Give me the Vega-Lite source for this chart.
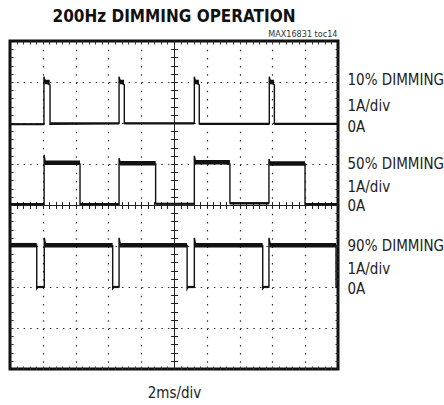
{
  "$schema": "https://vega.github.io/schema/vega-lite/v6.json",
  "width": 328,
  "height": 328,
  "autosize": "none",
  "padding": {"left": 10, "top": 41, "right": 106, "bottom": 36},
  "background": "white",
  "title": {
    "text": "200Hz DIMMING OPERATION",
    "font": "DejaVu Sans Condensed, sans-serif",
    "fontSize": 17,
    "fontWeight": "bold",
    "color": "#111",
    "anchor": "middle",
    "offset": 4
  },
  "config": {
    "view": {"stroke": "#111", "strokeWidth": 3},
    "axis": {
      "labelFont": "DejaVu Sans Condensed, sans-serif",
      "titleFont": "DejaVu Sans Condensed, sans-serif"
    }
  },
  "datasets": {
    "trace": [
      {"s": "10%", "i": 0, "t": 0, "v": 5.97},
      {"s": "10%", "i": 1, "t": 2.07, "v": 5.97},
      {"s": "10%", "i": 2, "t": 2.07, "v": 7.13},
      {"s": "10%", "i": 3, "t": 2.15, "v": 7.0},
      {"s": "10%", "i": 4, "t": 2.44, "v": 6.93},
      {"s": "10%", "i": 5, "t": 2.44, "v": 5.97},
      {"s": "10%", "i": 6, "t": 6.65, "v": 5.99},
      {"s": "10%", "i": 7, "t": 6.65, "v": 7.13},
      {"s": "10%", "i": 8, "t": 6.73, "v": 7.0},
      {"s": "10%", "i": 9, "t": 6.97, "v": 6.93},
      {"s": "10%", "i": 10, "t": 6.97, "v": 5.99},
      {"s": "10%", "i": 11, "t": 11.24, "v": 5.99},
      {"s": "10%", "i": 12, "t": 11.24, "v": 7.13},
      {"s": "10%", "i": 13, "t": 11.32, "v": 7.0},
      {"s": "10%", "i": 14, "t": 11.54, "v": 6.93},
      {"s": "10%", "i": 15, "t": 11.54, "v": 5.98},
      {"s": "10%", "i": 16, "t": 15.81, "v": 5.98},
      {"s": "10%", "i": 17, "t": 15.81, "v": 7.13},
      {"s": "10%", "i": 18, "t": 15.89, "v": 7.0},
      {"s": "10%", "i": 19, "t": 16.12, "v": 6.93},
      {"s": "10%", "i": 20, "t": 16.12, "v": 5.98},
      {"s": "10%", "i": 21, "t": 20, "v": 5.98},
      {"s": "50%", "i": 0, "t": 0, "v": 4.02},
      {"s": "50%", "i": 1, "t": 2.08, "v": 4.02},
      {"s": "50%", "i": 2, "t": 2.08, "v": 5.22},
      {"s": "50%", "i": 3, "t": 2.15, "v": 5.04},
      {"s": "50%", "i": 4, "t": 4.27, "v": 5.0},
      {"s": "50%", "i": 5, "t": 4.27, "v": 4.02},
      {"s": "50%", "i": 6, "t": 6.65, "v": 4.02},
      {"s": "50%", "i": 7, "t": 6.65, "v": 5.14},
      {"s": "50%", "i": 8, "t": 6.72, "v": 5.03},
      {"s": "50%", "i": 9, "t": 8.88, "v": 5.0},
      {"s": "50%", "i": 10, "t": 8.88, "v": 4.03},
      {"s": "50%", "i": 11, "t": 11.24, "v": 4.03},
      {"s": "50%", "i": 12, "t": 11.24, "v": 5.2},
      {"s": "50%", "i": 13, "t": 11.3, "v": 5.08},
      {"s": "50%", "i": 14, "t": 13.41, "v": 5.0},
      {"s": "50%", "i": 15, "t": 13.41, "v": 4.05},
      {"s": "50%", "i": 16, "t": 15.79, "v": 4.05},
      {"s": "50%", "i": 17, "t": 15.79, "v": 5.12},
      {"s": "50%", "i": 18, "t": 15.86, "v": 5.03},
      {"s": "50%", "i": 19, "t": 17.99, "v": 5.0},
      {"s": "50%", "i": 20, "t": 17.99, "v": 4.02},
      {"s": "50%", "i": 21, "t": 20, "v": 4.02},
      {"s": "90%", "i": 0, "t": 0, "v": 3.02},
      {"s": "90%", "i": 1, "t": 1.63, "v": 3.02},
      {"s": "90%", "i": 2, "t": 1.63, "v": 1.96},
      {"s": "90%", "i": 3, "t": 1.7, "v": 2.0},
      {"s": "90%", "i": 4, "t": 2.09, "v": 2.0},
      {"s": "90%", "i": 5, "t": 2.09, "v": 3.2},
      {"s": "90%", "i": 6, "t": 2.17, "v": 3.04},
      {"s": "90%", "i": 7, "t": 6.26, "v": 3.01},
      {"s": "90%", "i": 8, "t": 6.26, "v": 1.96},
      {"s": "90%", "i": 9, "t": 6.33, "v": 2.0},
      {"s": "90%", "i": 10, "t": 6.65, "v": 2.0},
      {"s": "90%", "i": 11, "t": 6.65, "v": 3.2},
      {"s": "90%", "i": 12, "t": 6.73, "v": 3.04},
      {"s": "90%", "i": 13, "t": 10.8, "v": 3.01},
      {"s": "90%", "i": 14, "t": 10.8, "v": 1.95},
      {"s": "90%", "i": 15, "t": 10.87, "v": 2.0},
      {"s": "90%", "i": 16, "t": 11.24, "v": 2.0},
      {"s": "90%", "i": 17, "t": 11.24, "v": 3.2},
      {"s": "90%", "i": 18, "t": 11.32, "v": 3.04},
      {"s": "90%", "i": 19, "t": 15.41, "v": 3.01},
      {"s": "90%", "i": 20, "t": 15.41, "v": 1.96},
      {"s": "90%", "i": 21, "t": 15.48, "v": 2.0},
      {"s": "90%", "i": 22, "t": 15.79, "v": 2.0},
      {"s": "90%", "i": 23, "t": 15.79, "v": 3.2},
      {"s": "90%", "i": 24, "t": 15.87, "v": 3.04},
      {"s": "90%", "i": 25, "t": 19.88, "v": 3.01},
      {"s": "90%", "i": 26, "t": 19.88, "v": 2.0},
      {"s": "90%", "i": 27, "t": 20, "v": 2.0}
    ],
    "seg": [
      {"s": "10%", "state": "low", "t0": 0, "t1": 2.07, "v": 5.97},
      {"s": "10%", "state": "low", "t0": 2.44, "t1": 6.65, "v": 5.99},
      {"s": "10%", "state": "low", "t0": 6.97, "t1": 11.24, "v": 5.99},
      {"s": "10%", "state": "low", "t0": 11.54, "t1": 15.81, "v": 5.98},
      {"s": "10%", "state": "low", "t0": 16.12, "t1": 20, "v": 5.98},
      {"s": "10%", "state": "high", "t0": 2.1, "t1": 2.42, "v": 7.0},
      {"s": "10%", "state": "high", "t0": 6.68, "t1": 6.95, "v": 7.0},
      {"s": "10%", "state": "high", "t0": 11.27, "t1": 11.52, "v": 7.0},
      {"s": "10%", "state": "high", "t0": 15.84, "t1": 16.1, "v": 7.0},
      {"s": "50%", "state": "high", "t0": 2.1, "t1": 4.27, "v": 5.03},
      {"s": "50%", "state": "high", "t0": 6.67, "t1": 8.88, "v": 5.02},
      {"s": "50%", "state": "high", "t0": 11.26, "t1": 13.41, "v": 5.04},
      {"s": "50%", "state": "high", "t0": 15.81, "t1": 17.99, "v": 5.01},
      {"s": "50%", "state": "low", "t0": 0, "t1": 2.08, "v": 4.02},
      {"s": "50%", "state": "low", "t0": 4.27, "t1": 6.65, "v": 4.02},
      {"s": "50%", "state": "low", "t0": 8.88, "t1": 11.24, "v": 4.03},
      {"s": "50%", "state": "low", "t0": 13.41, "t1": 15.79, "v": 4.04},
      {"s": "50%", "state": "low", "t0": 17.99, "t1": 20, "v": 4.02},
      {"s": "90%", "state": "high", "t0": 0, "t1": 1.63, "v": 3.02},
      {"s": "90%", "state": "high", "t0": 2.11, "t1": 6.26, "v": 3.02},
      {"s": "90%", "state": "high", "t0": 6.67, "t1": 10.8, "v": 3.02},
      {"s": "90%", "state": "high", "t0": 11.26, "t1": 15.41, "v": 3.02},
      {"s": "90%", "state": "high", "t0": 15.81, "t1": 19.88, "v": 3.02},
      {"s": "90%", "state": "low", "t0": 1.63, "t1": 2.09, "v": 2.0},
      {"s": "90%", "state": "low", "t0": 6.26, "t1": 6.65, "v": 2.0},
      {"s": "90%", "state": "low", "t0": 10.8, "t1": 11.24, "v": 2.0},
      {"s": "90%", "state": "low", "t0": 15.41, "t1": 15.79, "v": 2.0},
      {"s": "90%", "state": "low", "t0": 19.88, "t1": 20, "v": 2.0}
    ]
  },
  "data": {"name": "trace"},
  "resolve": {"axis": {"x": "independent", "y": "independent"}},
  "layer": [
    {
      "mark": {"type": "line", "stroke": "#111", "strokeWidth": 1.4, "clip": true},
      "encoding": {
        "x": {"field": "t", "type": "quantitative", "scale": {"domain": [0, 20], "nice": false, "zero": false},
          "axis": {"orient": "bottom", "values": [2, 4, 6, 8, 12, 14, 16, 18], "grid": true, "gridDash": [1.5, 6.7], "gridColor": "#333", "gridWidth": 1.2,
            "ticks": false, "labels": false, "domain": false,
            "title": "2ms/div", "titleFontSize": 15, "titleFontWeight": "normal", "titleColor": "#222",
            "titleX": 164, "titleY": 28, "titleBaseline": "alphabetic", "titleAlign": "center"}},
        "y": {"field": "v", "type": "quantitative", "scale": {"domain": [0, 8], "nice": false, "zero": false},
          "axis": {"orient": "left", "values": [1, 2, 3, 5, 6, 7], "grid": true, "gridDash": [1.5, 5.06], "gridColor": "#333", "gridWidth": 1.2,
            "ticks": false, "labels": false, "domain": false, "title": null}},
        "detail": {"field": "s"},
        "order": {"field": "i", "type": "quantitative"}
      }
    },
    {
      "data": {"name": "seg"},
      "mark": {"type": "rule", "stroke": "#111", "strokeCap": "butt"},
      "encoding": {
        "x": {"field": "t0", "type": "quantitative",
          "axis": {"orient": "top", "offset": -164, "values": [0.4,0.8,1.2,1.6,2,2.4,2.8,3.2,3.6,4,4.4,4.8,5.2,5.6,6,6.4,6.8,7.2,7.6,8,8.4,8.8,9.2,9.6,10,10.4,10.8,11.2,11.6,12,12.4,12.8,13.2,13.6,14,14.4,14.8,15.2,15.6,16,16.4,16.8,17.2,17.6,18,18.4,18.8,19.2,19.6],
            "tickSize": 3.5, "tickColor": "#222", "tickWidth": 1, "domain": true, "domainColor": "#222", "domainWidth": 1, "labels": false, "grid": false, "title": null}},
        "x2": {"field": "t1"},
        "y": {"field": "v", "type": "quantitative",
          "axis": {"orient": "right", "offset": -164, "values": [0.2,0.4,0.6,0.8,1,1.2,1.4,1.6,1.8,2,2.2,2.4,2.6,2.8,3,3.2,3.4,3.6,3.8,4,4.2,4.4,4.6,4.8,5,5.2,5.4,5.6,5.8,6,6.2,6.4,6.6,6.8,7,7.2,7.4,7.6,7.8],
            "tickSize": 3.5, "tickColor": "#222", "tickWidth": 1, "domain": true, "domainColor": "#222", "domainWidth": 1, "labels": false, "grid": false, "title": null}},
        "strokeWidth": {"field": "state", "type": "nominal", "scale": {"domain": ["low", "high"], "range": [2.2, 4.5]}, "legend": null}
      }
    },
    {
      "mark": {"type": "point", "opacity": 0},
      "encoding": {
        "x": {"field": "t", "type": "quantitative",
          "axis": {"orient": "bottom", "offset": -164, "values": [0.4,0.8,1.2,1.6,2,2.4,2.8,3.2,3.6,4,4.4,4.8,5.2,5.6,6,6.4,6.8,7.2,7.6,8,8.4,8.8,9.2,9.6,10,10.4,10.8,11.2,11.6,12,12.4,12.8,13.2,13.6,14,14.4,14.8,15.2,15.6,16,16.4,16.8,17.2,17.6,18,18.4,18.8,19.2,19.6],
            "tickSize": 3.5, "tickColor": "#222", "tickWidth": 1, "domain": true, "domainColor": "#222", "domainWidth": 1, "labels": false, "grid": false, "title": null}},
        "y": {"field": "v", "type": "quantitative",
          "axis": {"orient": "left", "offset": -164, "values": [0.2,0.4,0.6,0.8,1,1.2,1.4,1.6,1.8,2,2.2,2.4,2.6,2.8,3,3.2,3.4,3.6,3.8,4,4.2,4.4,4.6,4.8,5,5.2,5.4,5.6,5.8,6,6.2,6.4,6.6,6.8,7,7.2,7.4,7.6,7.8],
            "tickSize": 3.5, "tickColor": "#222", "tickWidth": 1, "domain": true, "domainColor": "#222", "domainWidth": 1, "labels": false, "grid": false, "title": null}}
      }
    },
    {
      "mark": {"type": "point", "opacity": 0},
      "encoding": {
        "x": {"field": "t", "type": "quantitative",
          "axis": {"orient": "top", "offset": -3, "values": [0.4,0.8,1.2,1.6,2,2.4,2.8,3.2,3.6,4,4.4,4.8,5.2,5.6,6,6.4,6.8,7.2,7.6,8,8.4,8.8,9.2,9.6,10,10.4,10.8,11.2,11.6,12,12.4,12.8,13.2,13.6,14,14.4,14.8,15.2,15.6,16,16.4,16.8,17.2,17.6,18,18.4,18.8,19.2,19.6],
            "tickSize": 3, "tickColor": "#333", "tickWidth": 1, "domain": false, "labels": false, "grid": false, "title": null}},
        "y": {"field": "v", "type": "quantitative",
          "axis": {"orient": "left", "offset": -3, "values": [0.2,0.4,0.6,0.8,1,1.2,1.4,1.6,1.8,2,2.2,2.4,2.6,2.8,3,3.2,3.4,3.6,3.8,4,4.2,4.4,4.6,4.8,5,5.2,5.4,5.6,5.8,6,6.2,6.4,6.6,6.8,7,7.2,7.4,7.6,7.8],
            "tickSize": 3, "tickColor": "#333", "tickWidth": 1, "domain": false, "labels": false, "grid": false, "title": null}}
      }
    },
    {
      "mark": {"type": "point", "opacity": 0},
      "encoding": {
        "x": {"field": "t", "type": "quantitative",
          "axis": {"orient": "bottom", "offset": -3, "values": [0.4,0.8,1.2,1.6,2,2.4,2.8,3.2,3.6,4,4.4,4.8,5.2,5.6,6,6.4,6.8,7.2,7.6,8,8.4,8.8,9.2,9.6,10,10.4,10.8,11.2,11.6,12,12.4,12.8,13.2,13.6,14,14.4,14.8,15.2,15.6,16,16.4,16.8,17.2,17.6,18,18.4,18.8,19.2,19.6],
            "tickSize": 3, "tickColor": "#333", "tickWidth": 1, "domain": false, "labels": false, "grid": false, "title": null}},
        "y": {"field": "v", "type": "quantitative",
          "axis": {"orient": "right", "offset": -3, "values": [0.2,0.4,0.6,0.8,1,1.2,1.4,1.6,1.8,2,2.2,2.4,2.6,2.8,3,3.2,3.4,3.6,3.8,4,4.2,4.4,4.6,4.8,5,5.2,5.4,5.6,5.8,6,6.2,6.4,6.6,6.8,7,7.2,7.4,7.6,7.8],
            "tickSize": 3, "tickColor": "#333", "tickWidth": 1, "domain": false, "labels": false, "grid": false, "title": null}}
      }
    },
    {
      "mark": {"type": "point", "opacity": 0},
      "encoding": {
        "x": {"field": "t", "type": "quantitative",
          "axis": {"orient": "top", "ticks": false, "labels": false, "domain": false, "grid": false,
            "title": "MAX16831 toc14", "titleFontSize": 9, "titleFontWeight": "normal", "titleColor": "#333",
            "titleX": 327, "titleY": -4.5, "titleAlign": "right", "titleBaseline": "alphabetic"}},
        "y": {"field": "v", "type": "quantitative",
          "axis": {"orient": "right", "values": [7.06, 6.43, 5.91, 5.01, 4.45, 3.98, 3.01, 2.46, 1.96],
            "ticks": false, "tickSize": 0, "domain": false, "grid": false, "title": null,
            "labelPadding": 9, "labelAlign": "left", "labelBaseline": "middle", "labelFontSize": 15, "labelColor": "#222",
            "labelOverlap": false, "labelFlush": false, "labelBound": false,
            "labelExpr": "datum.value == 7.06 ? '10% DIMMING' : datum.value == 5.01 ? '50% DIMMING' : datum.value == 3.01 ? '90% DIMMING' : (datum.value == 6.43 || datum.value == 4.45 || datum.value == 2.46) ? '1A/div' : '\u00a00A'"}}
      }
    }
  ]
}
